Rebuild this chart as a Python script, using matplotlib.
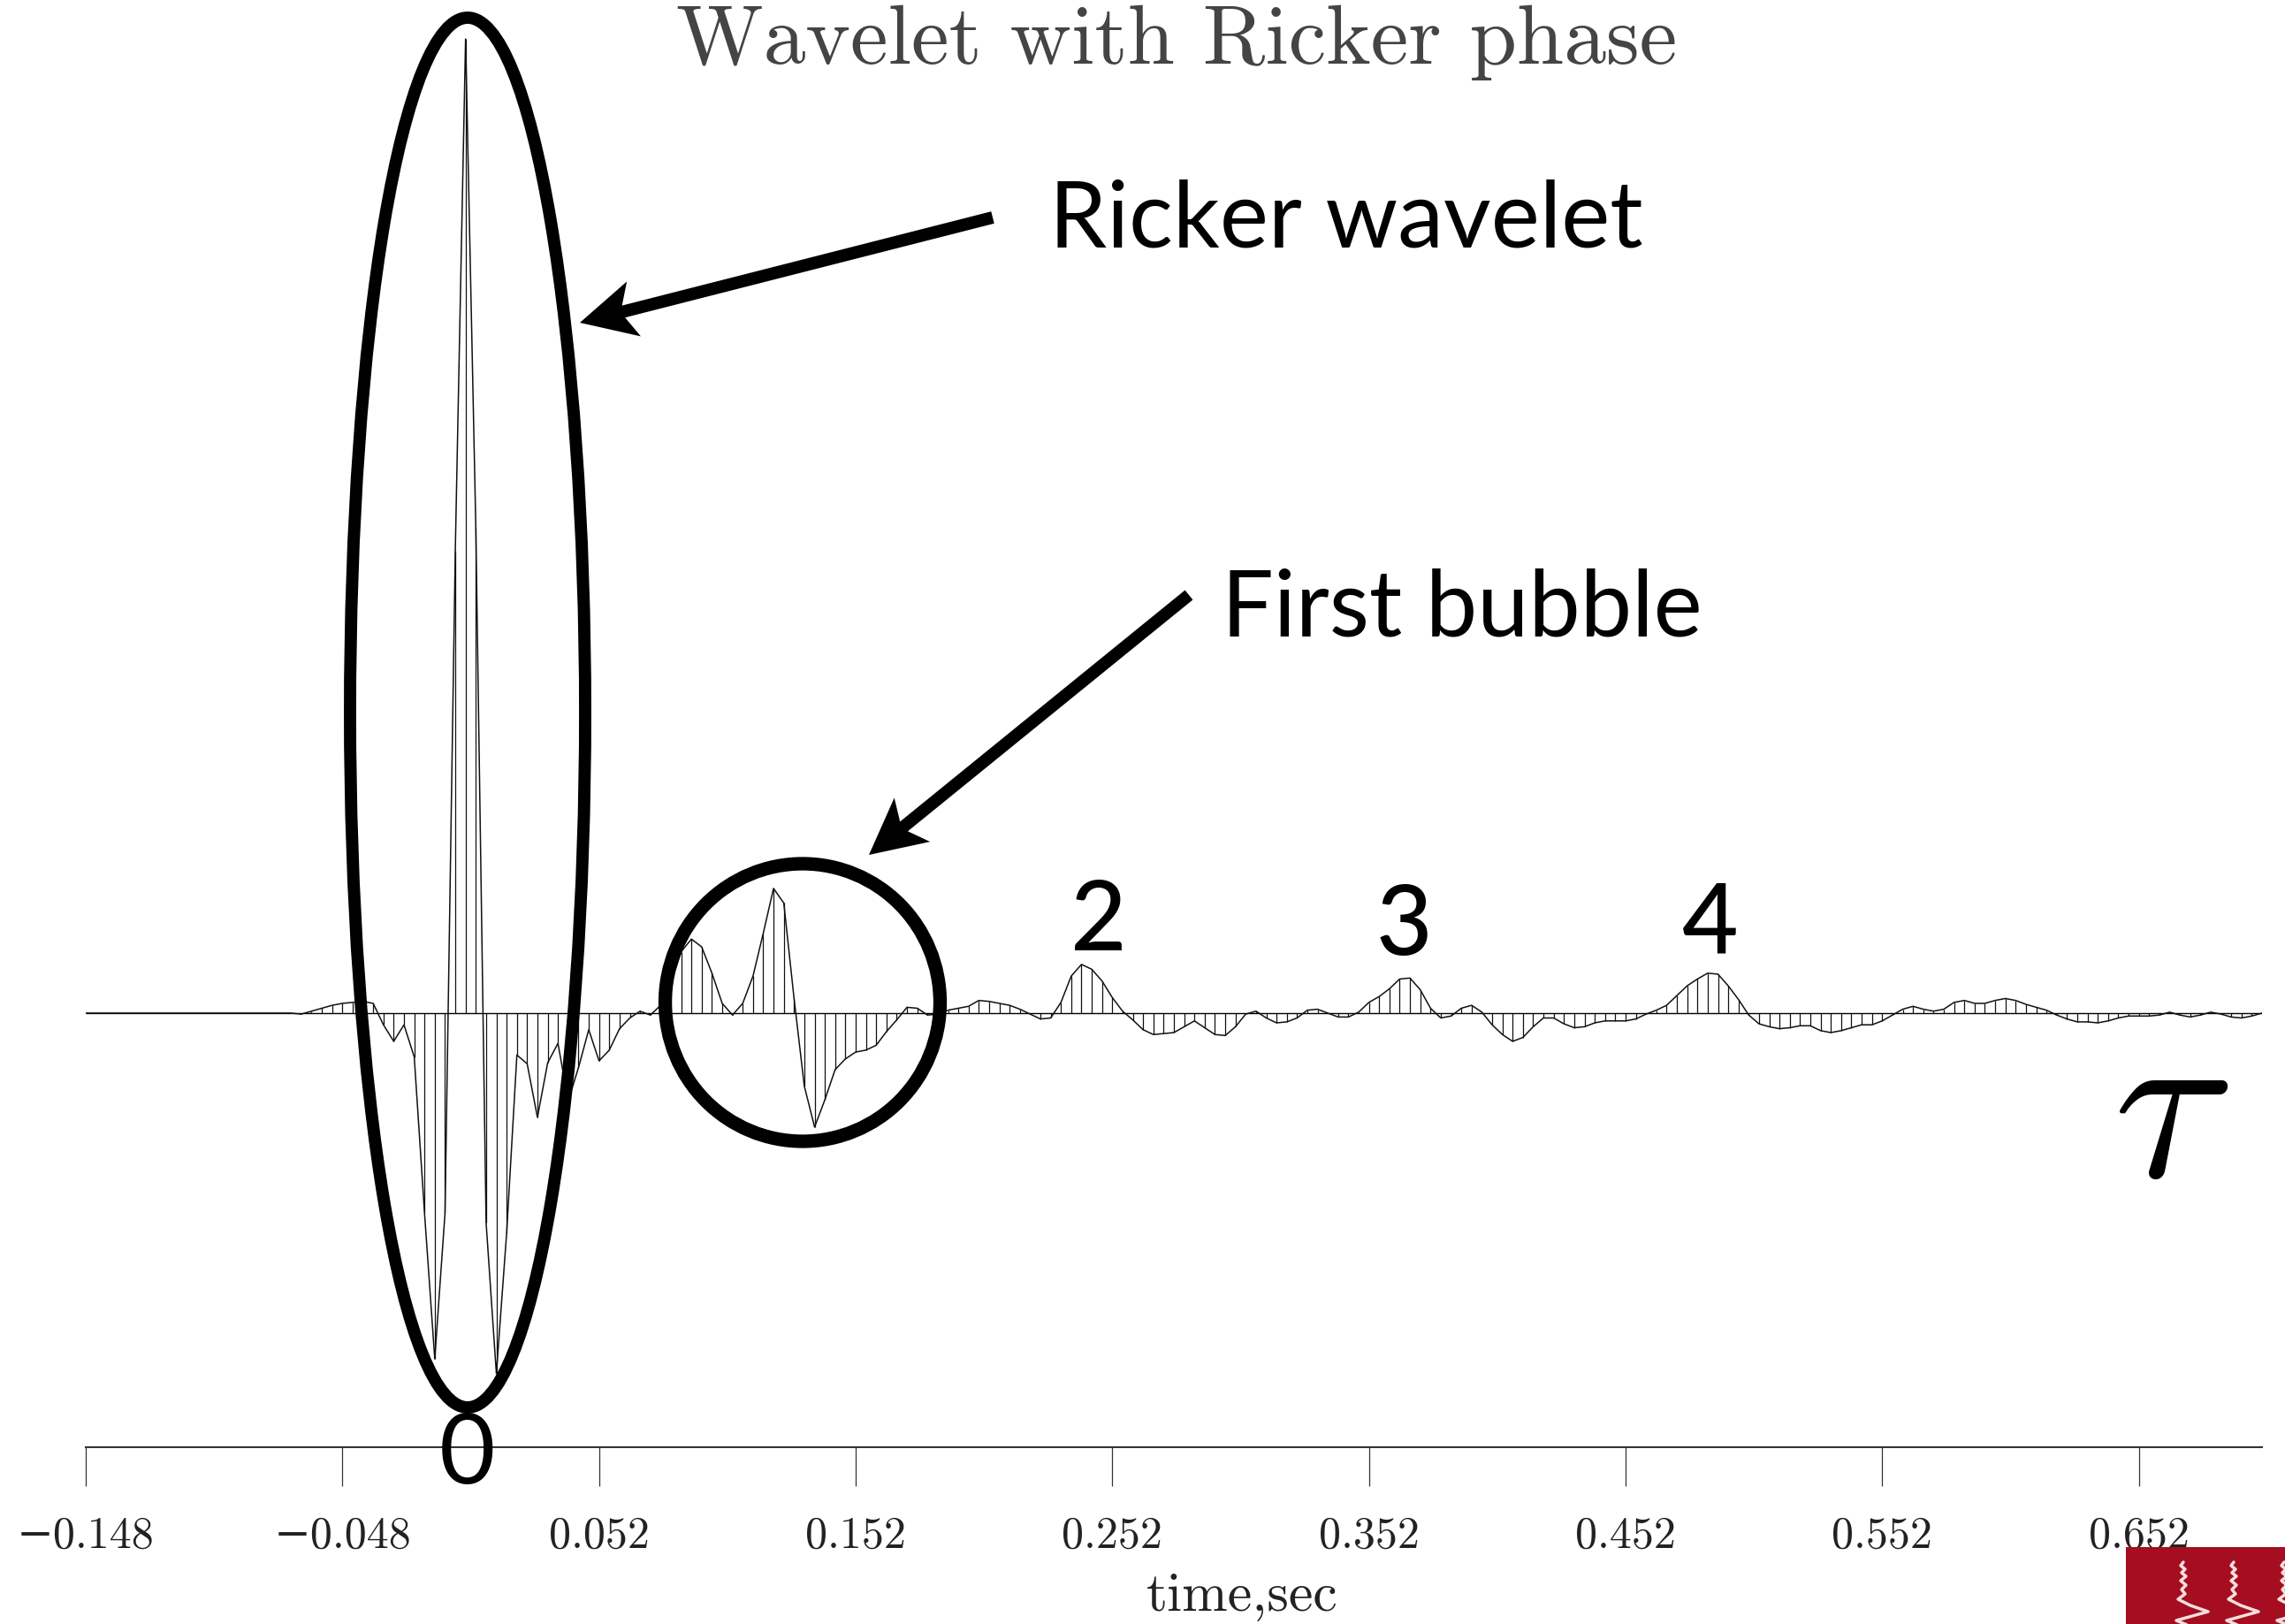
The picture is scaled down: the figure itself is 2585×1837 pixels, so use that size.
import matplotlib
matplotlib.use('Agg')
import matplotlib.pyplot as plt
from matplotlib.patches import Ellipse, Polygon, Rectangle
import numpy as np

# wavelet samples, 4 ms interval, first sample at -0.148 s
t0 = -0.148
dt = 0.004
amp = [
    0.0, 0.0, 0.0, 0.0, 0.0, 0.0, 0.0, 0.0, 0.0, 0.0,
    0.0, 0.0, 0.0, 0.0, 0.0, 0.0, 0.0, 0.0, 0.0, 0.0,
    0.0, -0.001, 0.002, 0.005, 0.008, 0.010, 0.011, 0.012, 0.010, -0.012,
    -0.029, -0.012, -0.045, -0.205, -0.355, -0.205, 0.475, 1.0, 0.498, -0.215,
    -0.370, -0.226, -0.043, -0.052, -0.107, -0.051, -0.031, -0.090, -0.056, -0.017,
    -0.049, -0.038, -0.016, -0.005, 0.002, -0.002, 0.008, 0.031, 0.063, 0.076,
    0.068, 0.041, 0.010, -0.002, 0.010, 0.038, 0.082, 0.128, 0.113, 0.015,
    -0.075, -0.117, -0.089, -0.058, -0.047, -0.040, -0.038, -0.033, -0.019, -0.007,
    0.006, 0.005, -0.002, -0.001, 0.003, 0.005, 0.007, 0.013, 0.012, 0.010,
    0.008, 0.004, -0.001, -0.006, -0.005, 0.011, 0.038, 0.050, 0.045, 0.033,
    0.016, 0.002, -0.007, -0.017, -0.022, -0.021, -0.020, -0.014, -0.008, -0.015,
    -0.022, -0.023, -0.014, -0.001, 0.002, -0.005, -0.010, -0.009, -0.005, 0.003,
    0.004, 0.000, -0.004, -0.004, 0.001, 0.011, 0.017, 0.025, 0.035, 0.036,
    0.024, 0.005, -0.005, -0.003, 0.005, 0.008, 0.001, -0.012, -0.022, -0.029,
    -0.025, -0.014, -0.005, -0.005, -0.011, -0.015, -0.014, -0.010, -0.008, -0.008,
    -0.008, -0.006, -0.001, 0.003, 0.008, 0.018, 0.028, 0.035, 0.041, 0.040,
    0.028, 0.014, -0.002, -0.011, -0.014, -0.016, -0.015, -0.013, -0.013, -0.018,
    -0.020, -0.018, -0.015, -0.012, -0.012, -0.008, -0.002, 0.004, 0.007, 0.004,
    0.002, 0.004, 0.011, 0.013, 0.010, 0.010, 0.013, 0.015, 0.013, 0.009,
    0.006, 0.003, -0.002, -0.006, -0.009, -0.009, -0.010, -0.008, -0.005, -0.003,
    -0.003, -0.003, -0.002, 0.001, -0.002, -0.004, -0.002, 0.001, -0.001, -0.004,
    -0.005, -0.003, 0.000,
]
tick_times = [-0.148, -0.048, 0.052, 0.152, 0.252, 0.352, 0.452, 0.552, 0.652]
tick_labels = ['\u22120.148', '\u22120.048', '0.052', '0.152', '0.252',
               '0.352', '0.452', '0.552', '0.652']
bubble_labels = ['2', '3', '4']

W, H = 2585, 1837
fig = plt.figure(figsize=(W / 100, H / 100), dpi=100)

# trace panel: bottom spine sits at y=1637 px
ax = fig.add_axes([97 / W, 1 - 1637 / H, 2462 / W, 1637 / H])
t = t0 + dt * np.arange(len(amp))
ax.hlines(0, t[0], t[-1], color='k', lw=1.0)
ax.vlines(t, 0, amp, color='#111111', lw=0.9)
ax.plot(t, amp, color='#111111', lw=1.1)
ax.set_xlim(-0.148, 0.70)
ax.set_ylim(-0.4456, 1.040)
for s in ['left', 'right', 'top']:
    ax.spines[s].set_visible(False)
ax.spines['bottom'].set_linewidth(1.5)
ax.spines['bottom'].set_color('#333333')
ax.set_yticks([])
ax.set_xticks(tick_times)
ax.set_xticklabels(tick_labels, fontfamily=['cmr10', 'DejaVu Serif'],
                   fontsize=36, color='#222222')
ax.tick_params(axis='x', length=32, width=0.9, pad=24, color='#333333')
ax.patch.set_alpha(0)

# overlay in pixel units for the hand-drawn annotations
ov = fig.add_axes([0, 0, 1, 1], zorder=5)
ov.set_xlim(0, W)
ov.set_ylim(H, 0)
ov.axis('off')
ov.patch.set_alpha(0)

ov.text(1331, 72, 'Wavelet with Ricker phase', family='cmr10', fontsize=69,
        ha='center', va='baseline', color='#444444')
ov.text(1405, 1822, 'time,sec', family='cmr10', fontsize=44.6,
        ha='center', va='baseline', color='#222222')

ov.add_patch(Ellipse((529, 806), 266, 1572, fill=False, lw=10, ec='k'))
ov.add_patch(Ellipse((908, 1134), 311, 314, fill=False, lw=11, ec='k'))


def arrow(tail, tip, shaft=14, head_len=63, head_w=64, notch=51):
    tail = np.array(tail, float)
    tip = np.array(tip, float)
    u = (tip - tail) / np.hypot(*(tip - tail))
    n = np.array([-u[1], u[0]])
    pts = [tip,
           tip - head_len * u + head_w / 2 * n,
           tip - notch * u + shaft / 2 * n,
           tail + shaft / 2 * n,
           tail - shaft / 2 * n,
           tip - notch * u - shaft / 2 * n,
           tip - head_len * u - head_w / 2 * n]
    ov.add_patch(Polygon(pts, closed=True, fc='k', ec='none'))


arrow((1123, 246), (656, 365))
arrow((1345, 673), (983, 967))

label_font = dict(family='Lato', fontsize=75, color='k', va='baseline')
ov.text(1187, 280, 'Ricker wavelet', ha='left', **label_font)
ov.text(1382, 720, 'First bubble', ha='left', **label_font)
for lab, x, y in zip(bubble_labels, [1243, 1588, 1935], [1075, 1080, 1077]):
    ov.text(x, y, lab, ha='center', fontweight='medium', **{**label_font, 'fontsize': 79})
ov.text(529, 1678, '0', ha='center', **{**label_font, 'fontsize': 79})
ov.text(2456, 1262, r'$\tau$', math_fontfamily='cm', fontsize=180,
        ha='center', va='center')

# corner logo
ov.add_patch(Rectangle((2405, 1750), 200, 100, fc='#A50D20', ec='none'))
wig_dx = np.array([0, -3, 2, -2, 3, -3, 3, -2, 2, -6, 8, 28, 10, -8, 4, 30])
wig_dy = np.array([0, 4, 8, 12, 16, 21, 26, 31, 36, 42, 49, 56, 61, 66, 71, 76])
for x0 in [2470, 2527, 2584]:
    ov.plot(x0 + wig_dx, 1767 + wig_dy, color='#f4dede', lw=2.5,
            solid_capstyle='round')

fig.savefig('out.png', dpi=100)
